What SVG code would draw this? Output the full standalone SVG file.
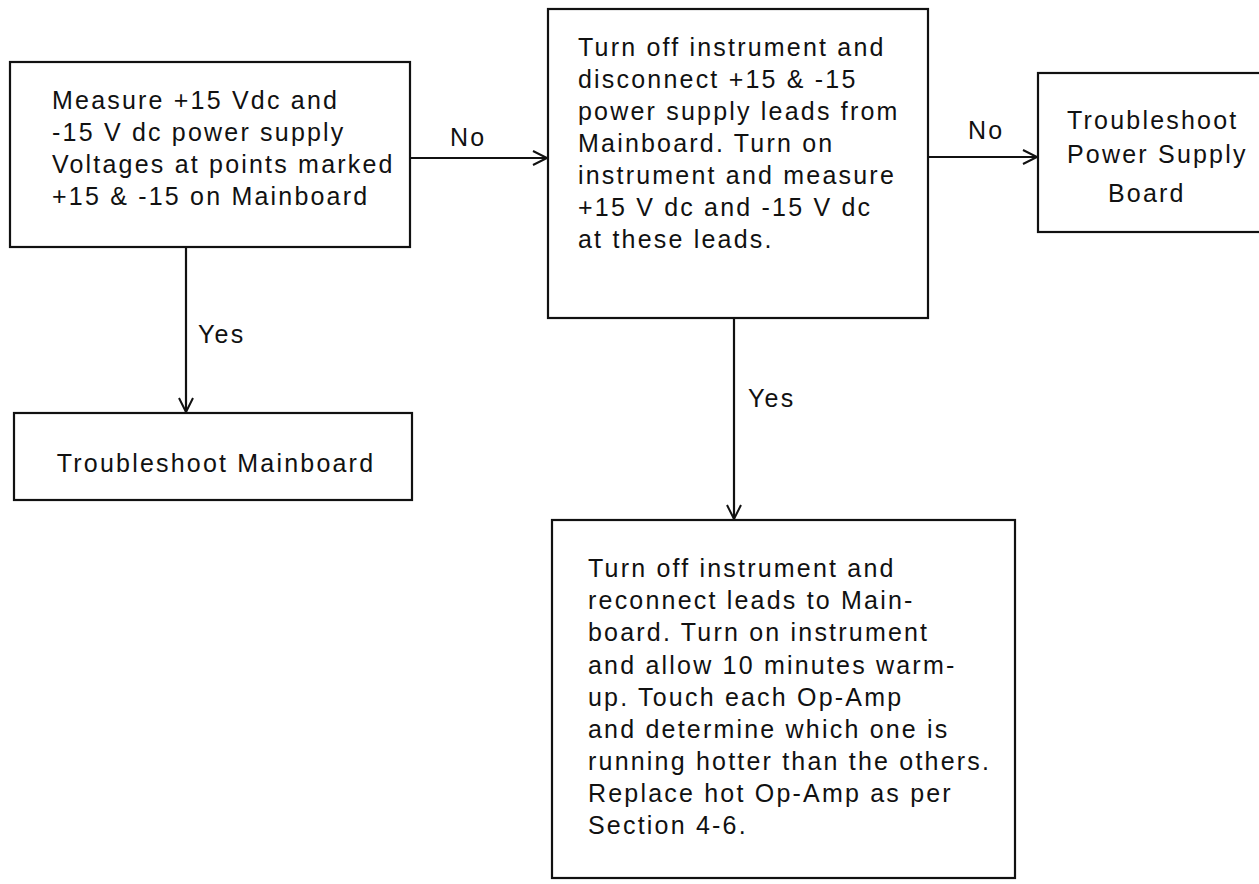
<svg xmlns="http://www.w3.org/2000/svg" width="1259" height="884" viewBox="0 0 1259 884">
<defs>
<style>
.box{fill:#fff;stroke:#111;stroke-width:2.2}
.t{font-family:"Liberation Sans",Arial,sans-serif;font-size:25px;letter-spacing:2.2px;fill:#111}
.c{stroke:#111;stroke-width:2.2;fill:none}
</style>
<marker id="arr" markerUnits="userSpaceOnUse" markerWidth="18" markerHeight="18" refX="15" refY="8" orient="auto">
<path d="M1,1 L15,8 L1,15" fill="none" stroke="#111" stroke-width="2"/>
</marker>
</defs>
<rect width="1259" height="884" fill="#fff"/>
<g id="connectors">
<line class="c" x1="410" y1="158" x2="547" y2="158" marker-end="url(#arr)"/>
<line class="c" x1="928" y1="157" x2="1037" y2="157" marker-end="url(#arr)"/>
<line class="c" x1="186" y1="247" x2="186" y2="412" marker-end="url(#arr)"/>
<line class="c" x1="734" y1="318" x2="734" y2="519" marker-end="url(#arr)"/>
<text class="t" x="450" y="146">No</text>
<text class="t" x="968" y="139">No</text>
<text class="t" x="198" y="343">Yes</text>
<text class="t" x="748" y="407">Yes</text>
</g>
<g id="measure">
<rect class="box" x="10" y="62" width="400" height="185"/>
<text class="t" x="52" y="109">Measure +15 Vdc and</text>
<text class="t" x="52" y="141">-15 V dc power supply</text>
<text class="t" x="52" y="173">Voltages at points marked</text>
<text class="t" x="52" y="205">+15 &amp; -15 on Mainboard</text>
</g>
<g id="disconnect">
<rect class="box" x="548" y="9" width="380" height="309"/>
<text class="t" x="578" y="56">Turn off instrument and</text>
<text class="t" x="578" y="88">disconnect +15 &amp; -15</text>
<text class="t" x="578" y="120">power supply leads from</text>
<text class="t" x="578" y="152">Mainboard.  Turn on</text>
<text class="t" x="578" y="184">instrument and measure</text>
<text class="t" x="578" y="216">+15 V dc and -15 V dc</text>
<text class="t" x="578" y="248">at these leads.</text>
</g>
<g id="psboard">
<rect class="box" x="1038" y="73" width="240" height="159"/>
<text class="t" x="1067" y="129">Troubleshoot</text>
<text class="t" x="1067" y="163">Power Supply</text>
<text class="t" x="1108" y="202">Board</text>
</g>
<g id="mainboard">
<rect class="box" x="14" y="413" width="398" height="87"/>
<text class="t" x="216" y="472" text-anchor="middle">Troubleshoot Mainboard</text>
</g>
<g id="reconnect">
<rect class="box" x="552" y="520" width="463" height="358"/>
<text class="t" x="588" y="577">Turn off instrument and</text>
<text class="t" x="588" y="609">reconnect leads to Main-</text>
<text class="t" x="588" y="641">board.  Turn on instrument</text>
<text class="t" x="588" y="674">and allow 10 minutes warm-</text>
<text class="t" x="588" y="706">up.  Touch each Op-Amp</text>
<text class="t" x="588" y="738">and determine which one is</text>
<text class="t" x="588" y="770">running hotter than the others.</text>
<text class="t" x="588" y="802">Replace hot Op-Amp as per</text>
<text class="t" x="588" y="834">Section 4-6.</text>
</g>
</svg>
